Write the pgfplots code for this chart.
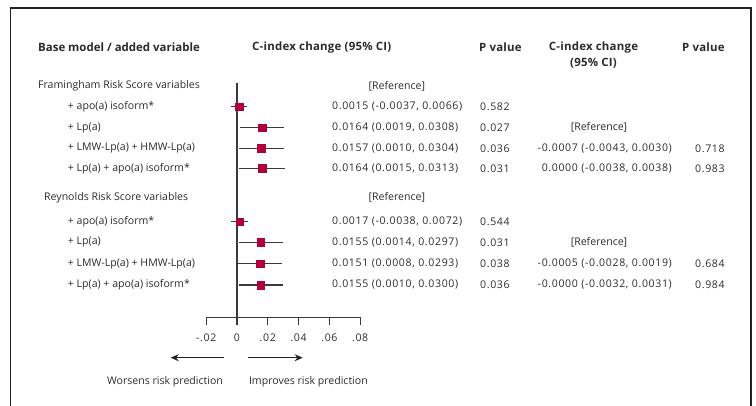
\documentclass[border=0pt]{standalone}
\usepackage{fontspec}
\setmainfont{Open Sans}
\usepackage{pgfplots}
\pgfplotsset{compat=1.18}
\usepackage{pgfplotstable}
\usetikzlibrary{arrows.meta}
\definecolor{mk}{HTML}{B0003A}
\definecolor{ln}{HTML}{3A3A3A}
\definecolor{tx}{HTML}{2B2B2B}
\definecolor{fr}{HTML}{222222}

% row = vertical position of the row (pixels, negative downwards)
\pgfplotstableread{
row    est     lo       hi
-106.7 0.0015 -0.0037  0.0066
-127.7 0.0164  0.0019  0.0308
-148.3 0.0157  0.0010  0.0304
-168.3 0.0164  0.0015  0.0313
-221.7 0.0017 -0.0038  0.0072
-242.3 0.0155  0.0014  0.0297
-263.7 0.0151  0.0008  0.0293
-285.0 0.0155  0.0010  0.0300
}\ci

\newcommand{\fs}{\fontsize{10.6}{12.5}\selectfont}
\newcommand{\ns}{\fontsize{10.6}{12.5}\selectfont\addfontfeature{LetterSpace=6}}
\newcommand{\hs}{\fontsize{11.5}{13.5}\selectfont\bfseries\addfontfeature{LetterSpace=2}}
\newcommand{\hb}{\fontsize{11.5}{13.5}\selectfont\bfseries}

\begin{document}
\begin{tikzpicture}[font=\fs, text=tx]
\begin{axis}[
  x=1540bp, y=1bp,
  xmin=-0.02, xmax=0.08, ymin=-317.3, ymax=-83,
  axis x line*=bottom, axis y line=none,
  xtick={-0.02,0,0.02,0.04,0.06,0.08},
  xticklabels={-.02,0,.02,.04,.06,.08},
  scaled x ticks=false,
  tick align=outside, major tick length=8bp,
  axis line style={ln, line width=1.1bp},
  every tick/.style={ln, line width=1.1bp},
  xticklabel style={font=\ns, text=tx, yshift=-5bp},
  clip=false,
]
\draw[ln, line width=1.1bp] (axis cs:0,-83) -- (axis cs:0,-317.3);
\addplot[only marks, mark=square*, mark size=3.75bp,
  mark options={fill=mk, draw=mk},
  error bars/.cd, x dir=both, x explicit, error mark=none,
  error bar style={ln, line width=1.1bp}]
  table[x=est, y=row,
        x error plus expr=\thisrow{hi}-\thisrow{est},
        x error minus expr=\thisrow{est}-\thisrow{lo}] {\ci};
\coordinate (O) at (axis cs:0,0);
\end{axis}

\begin{scope}[shift={(O)}, xshift=-237bp, x=1bp, y=-1bp]
\path[use as bounding box] (0,0) rectangle (756,405);
\clip (0,0) rectangle (756,405);
\draw[fr, line width=1.6bp] (10.5,420) -- (10.5,8.2) -- (751,8.2) -- (751,420);

\begin{scope}[every node/.style={inner sep=0pt}]
% headers
\node[anchor=west, font=\hb] at (38,47.3) {Base model / added variable};
\node[anchor=west, font=\hs] at (252,47.3) {C-index change (95\% CI)};
\node[anchor=west, font=\hs] at (479,47.3) {P value};
\node[font=\hs] at (593.5,47.3) {C-index change};
\node[font=\hs] at (593.5,63) {(95\% CI)};
\node[anchor=west, font=\hs] at (682,47.3) {P value};

% left labels
\node[anchor=west] at (38,86) {Framingham Risk Score variables};
\node[anchor=west] at (67.7,106.7) {+ apo(a) isoform*};
\node[anchor=west] at (67.7,127.7) {+ Lp(a)};
\node[anchor=west] at (67.7,148.3) {+ LMW-Lp(a) + HMW-Lp(a)};
\node[anchor=west] at (67.7,168.3) {+ Lp(a) + apo(a) isoform*};
\node[anchor=west] at (44,197.3) {Reynolds Risk Score variables};
\node[anchor=west] at (67.7,221.7) {+ apo(a) isoform*};
\node[anchor=west] at (67.7,242.3) {+ Lp(a)};
\node[anchor=west] at (67.7,263.7) {+ LMW-Lp(a) + HMW-Lp(a)};
\node[anchor=west] at (67.7,285) {+ Lp(a) + apo(a) isoform*};

\begin{scope}[every node/.append style={font=\ns}]
% column 1
\node[anchor=west, font=\fs] at (368.5,86) {[Reference]};
\node[anchor=west] at (332,106.7) {0.0015 (-0.0037, 0.0066)};
\node[anchor=west] at (332,127.7) {0.0164 (0.0019, 0.0308)};
\node[anchor=west] at (332,148.3) {0.0157 (0.0010, 0.0304)};
\node[anchor=west] at (332,168.3) {0.0164 (0.0015, 0.0313)};
\node[anchor=west, font=\fs] at (368.5,197.3) {[Reference]};
\node[anchor=west] at (332,221.7) {0.0017 (-0.0038, 0.0072)};
\node[anchor=west] at (332,242.3) {0.0155 (0.0014, 0.0297)};
\node[anchor=west] at (332,263.7) {0.0151 (0.0008, 0.0293)};
\node[anchor=west] at (332,285) {0.0155 (0.0010, 0.0300)};

% p values 1
\node[anchor=west] at (480,106.7) {0.582};
\node[anchor=west] at (480,127.7) {0.027};
\node[anchor=west] at (480,148.3) {0.036};
\node[anchor=west] at (480,168.3) {0.031};
\node[anchor=west] at (480,221.7) {0.544};
\node[anchor=west] at (480,242.3) {0.031};
\node[anchor=west] at (480,263.7) {0.038};
\node[anchor=west] at (480,285) {0.036};

% column 2
\node[font=\fs] at (599,127.7) {[Reference]};
\node[anchor=east] at (672,148.3) {-0.0007 (-0.0043, 0.0030)};
\node[anchor=east] at (672,168.3) {0.0000 (-0.0038, 0.0038)};
\node[font=\fs] at (599,242.3) {[Reference]};
\node[anchor=east] at (672,263.7) {-0.0005 (-0.0028, 0.0019)};
\node[anchor=east] at (672,285) {-0.0000 (-0.0032, 0.0031)};

% p values 2
\node[anchor=west] at (695,148.3) {0.718};
\node[anchor=west] at (695,168.3) {0.983};
\node[anchor=west] at (695,263.7) {0.684};
\node[anchor=west] at (695,285) {0.984};
\end{scope}

% arrows and captions
\draw[fr, line width=1.2bp, -{Stealth[length=8bp,width=7bp]}] (224,357.7) -- (170.7,357.7);
\draw[fr, line width=1.2bp, -{Stealth[length=8bp,width=7bp]}] (248,357.7) -- (302.7,357.7);
\node at (165,381.7) {Worsens risk prediction};
\node at (308.4,381.7) {Improves risk prediction};
\end{scope}
\end{scope}
\end{tikzpicture}
\end{document}
